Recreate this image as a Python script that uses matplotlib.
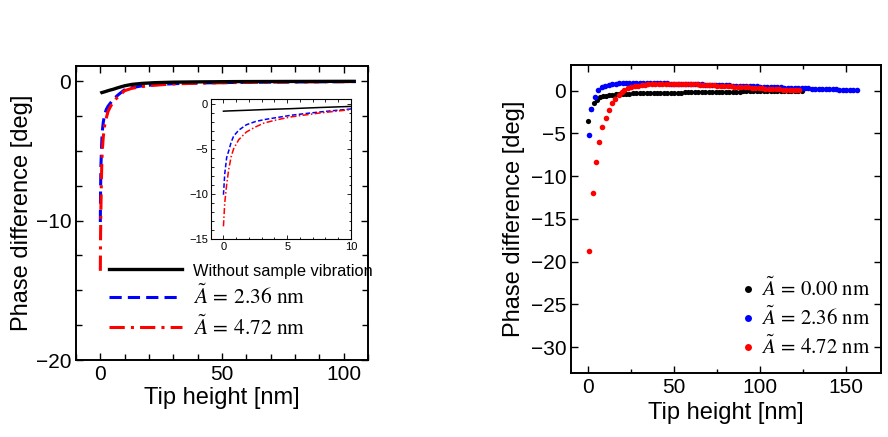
import matplotlib
matplotlib.use("Agg")
import matplotlib.pyplot as plt
from matplotlib.ticker import MultipleLocator
from matplotlib.lines import Line2D
import numpy as np

plt.rcParams['font.family'] = ['Liberation Sans', 'DejaVu Sans']
plt.rcParams['mathtext.fontset'] = 'stix'

# ---------------- Left panel (simulation, lines) ----------------
sim_x = [0, 0.1, 0.25, 0.4, 0.6, 0.8, 1.2, 1.8, 2.5, 3.2, 4.2, 5.3, 6.5, 7.6,
         10, 13, 17, 22, 30, 40, 55, 75, 105]
sim_none = [-0.85, -0.84, -0.83, -0.82, -0.81, -0.80, -0.78, -0.75, -0.71, -0.67,
            -0.62, -0.57, -0.50, -0.44, -0.32, -0.22, -0.15, -0.10, -0.06, -0.04,
            -0.02, -0.01, 0.0]
sim_236 = [-10.1, -7.8, -6.0, -5.3, -4.3, -3.6, -2.95, -2.35, -2.0, -1.78, -1.55,
           -1.3, -1.1, -0.93, -0.6, -0.45, -0.33, -0.25, -0.17, -0.12, -0.08,
           -0.05, -0.02]
sim_472 = [-13.6, -11.0, -9.0, -7.4, -5.9, -5.0, -4.0, -3.15, -2.6, -2.15, -1.8,
           -1.48, -1.25, -1.04, -0.67, -0.5, -0.38, -0.28, -0.19, -0.13, -0.09,
           -0.05, -0.02]
sim_labels = ['Without sample vibration',
              r'$\tilde{A}\,=\,2.36\ \mathrm{nm}$',
              r'$\tilde{A}\,=\,4.72\ \mathrm{nm}$']

# ---------------- Right panel (experiment, dots) ----------------
exp0_x = [0, 1.4, 3.3, 5.0, 6.8, 8.6, 10.4] + list(range(12, 125, 2))
exp0_y = [-3.5, -2.2, -1.4, -1.05, -0.8, -0.68, -0.6,
          -0.52, -0.48, -0.44, -0.41, -0.38, -0.36, -0.34, -0.33, -0.32, -0.31,
          -0.30, -0.29, -0.28, -0.27, -0.27, -0.26, -0.25, -0.25, -0.24, -0.23,
          -0.23, -0.22, -0.21, -0.21, -0.20, -0.19, -0.19, -0.18, -0.17, -0.17,
          -0.16, -0.15, -0.15, -0.14, -0.13, -0.13, -0.12, -0.11, -0.11, -0.10,
          -0.09, -0.09, -0.08, -0.07, -0.07, -0.06, -0.05, -0.05, -0.04, -0.03,
          -0.03, -0.02, -0.02, -0.01, -0.01, 0.00, 0.00]
exp1_x = [0.4, 1.6, 3.9, 5.8, 7.8] + list(range(10, 157, 2))
exp1_y = [-5.15, -2.1, -0.75, 0.03, 0.42,
          0.58, 0.68, 0.75, 0.80, 0.84, 0.86, 0.88, 0.89, 0.89, 0.90, 0.90,
          0.89, 0.89, 0.88, 0.88, 0.87, 0.86, 0.85, 0.84, 0.83, 0.82, 0.81,
          0.80, 0.79, 0.77, 0.76, 0.75, 0.74, 0.72, 0.71, 0.70, 0.68, 0.67,
          0.65, 0.64, 0.62, 0.61, 0.59, 0.58, 0.56, 0.55, 0.53, 0.52, 0.50,
          0.49, 0.47, 0.45, 0.44, 0.42, 0.41, 0.39, 0.38, 0.36, 0.35, 0.33,
          0.32, 0.30, 0.29, 0.27, 0.26, 0.24, 0.23, 0.21, 0.20, 0.18, 0.17,
          0.15, 0.14, 0.12, 0.11, 0.09, 0.08, 0.06, 0.05]
exp2_x = [0.4, 2.5, 4.5, 6.2, 8.2, 10.1, 11.9, 14.0, 15.7, 17.7, 19.5] + \
         list(range(21, 122, 2)) + [122.4]
exp2_y = [-18.8, -12.0, -8.3, -6.0, -4.3, -3.2, -2.3, -1.5, -1.0, -0.5, -0.15,
          0.10, 0.28, 0.42, 0.52, 0.60, 0.66, 0.71, 0.74, 0.77, 0.78, 0.79,
          0.80, 0.80, 0.80, 0.79, 0.79, 0.78, 0.77, 0.76, 0.75, 0.73, 0.72,
          0.70, 0.68, 0.66, 0.64, 0.62, 0.60, 0.58, 0.55, 0.53, 0.50, 0.48,
          0.45, 0.43, 0.40, 0.38, 0.35, 0.33, 0.30, 0.28, 0.25, 0.23, 0.20,
          0.18, 0.15, 0.13, 0.10, 0.08, 0.06, 0.04, 0.03]
exp_labels = [r'$\tilde{A}\,=\,0.00\ \mathrm{nm}$',
              r'$\tilde{A}\,=\,2.36\ \mathrm{nm}$',
              r'$\tilde{A}\,=\,4.72\ \mathrm{nm}$']

fig = plt.figure(figsize=(8.88, 4.37), dpi=100)

# ---- left main axes
ax1 = fig.add_axes([76/888, 1-360/437, 292/888, 294/437])
ax1.plot(sim_x, sim_236, color='blue', lw=2.2, ls=(0, (4, 2)))
ax1.plot(sim_x, sim_472, color='red', lw=2.2, ls=(0, (5, 2, 1, 2)))
ax1.plot(sim_x, sim_none, color='black', lw=2.4, solid_capstyle='butt')
ax1.set_xlim(-10, 110)
ax1.set_ylim(-20, 1.1)
ax1.xaxis.set_major_locator(MultipleLocator(50))
ax1.xaxis.set_minor_locator(MultipleLocator(10))
ax1.yaxis.set_major_locator(MultipleLocator(10))
ax1.yaxis.set_minor_locator(MultipleLocator(2.5))
ax1.tick_params(which='both', direction='in', top=True, right=True,
                labelsize=15, width=1.0)
ax1.tick_params(which='major', length=5)
ax1.tick_params(which='minor', length=4)
for s in ax1.spines.values():
    s.set_linewidth(1.4)
ax1.set_xlabel('Tip height [nm]', fontsize=17, labelpad=2)
ax1.set_ylabel('Phase difference [deg]', fontsize=17, labelpad=2)

handles = [Line2D([], [], color='black', lw=2.4),
           Line2D([], [], color='blue', lw=2.2, ls=(0, (4, 2))),
           Line2D([], [], color='red', lw=2.2, ls=(0, (5, 2, 1, 2)))]
leg1 = ax1.legend(handles, sim_labels, loc='upper left',
                  bbox_to_anchor=(109/888, 1-261/437), bbox_transform=fig.transFigure,
                  frameon=False, fontsize=15.5, handlelength=3.4, handletextpad=0.5,
                  labelspacing=0.28, borderpad=0, borderaxespad=0)
leg1.get_texts()[0].set_fontsize(11.8)

# ---- inset
axi = fig.add_axes([210.7/888, 1-239/437, 140.3/888, 140/437])
axi.plot(sim_x, sim_none, color='black', lw=1.1)
axi.plot(sim_x, sim_236, color='blue', lw=1.1, ls=(0, (3, 1.5)))
axi.plot(sim_x, sim_472, color='red', lw=1.1, ls=(0, (4, 1.5, 1, 1.5)))
axi.set_xlim(-1, 10)
axi.set_ylim(-15, 0.5)
axi.xaxis.set_major_locator(MultipleLocator(5))
axi.xaxis.set_minor_locator(MultipleLocator(1))
axi.yaxis.set_major_locator(MultipleLocator(5))
axi.yaxis.set_minor_locator(MultipleLocator(1))
axi.tick_params(which='both', direction='in', top=True, right=True,
                labelsize=8, width=0.6, pad=2)
axi.tick_params(which='major', length=3)
axi.tick_params(which='minor', length=1.8)
for s in axi.spines.values():
    s.set_linewidth(0.8)

# ---- right axes
ax2 = fig.add_axes([571/888, 1-372.7/437, 309.7/888, 307.7/437])
ax2.scatter(exp0_x, exp0_y, s=14, color='black', linewidths=0, zorder=3)
ax2.scatter(exp1_x, exp1_y, s=16, color='blue', linewidths=0, zorder=3)
ax2.scatter(exp2_x, exp2_y, s=16, color='red', linewidths=0, zorder=3)
ax2.set_xlim(-10, 170)
ax2.set_ylim(-33, 3)
ax2.xaxis.set_major_locator(MultipleLocator(50))
ax2.xaxis.set_minor_locator(MultipleLocator(25))
ax2.yaxis.set_major_locator(MultipleLocator(5))
ax2.tick_params(which='both', direction='in', top=True, right=True,
                labelsize=15, width=1.0)
ax2.tick_params(which='major', length=5)
ax2.tick_params(which='minor', length=3)
for s in ax2.spines.values():
    s.set_linewidth(1.4)
ax2.set_xlabel('Tip height [nm]', fontsize=17, labelpad=4)
ax2.set_ylabel('Phase difference [deg]', fontsize=17, labelpad=4)

mh = [Line2D([], [], ls='none', marker='o', ms=5, color=c, mec='none')
      for c in ('black', 'blue', 'red')]
ax2.legend(mh, exp_labels, loc='lower right',
           bbox_to_anchor=(870/888, 1-358/437), bbox_transform=fig.transFigure,
           frameon=False, fontsize=15, handlelength=0.6, handletextpad=0.3,
           labelspacing=0.28, borderpad=0, borderaxespad=0)

fig.savefig('out.png', dpi=100)
